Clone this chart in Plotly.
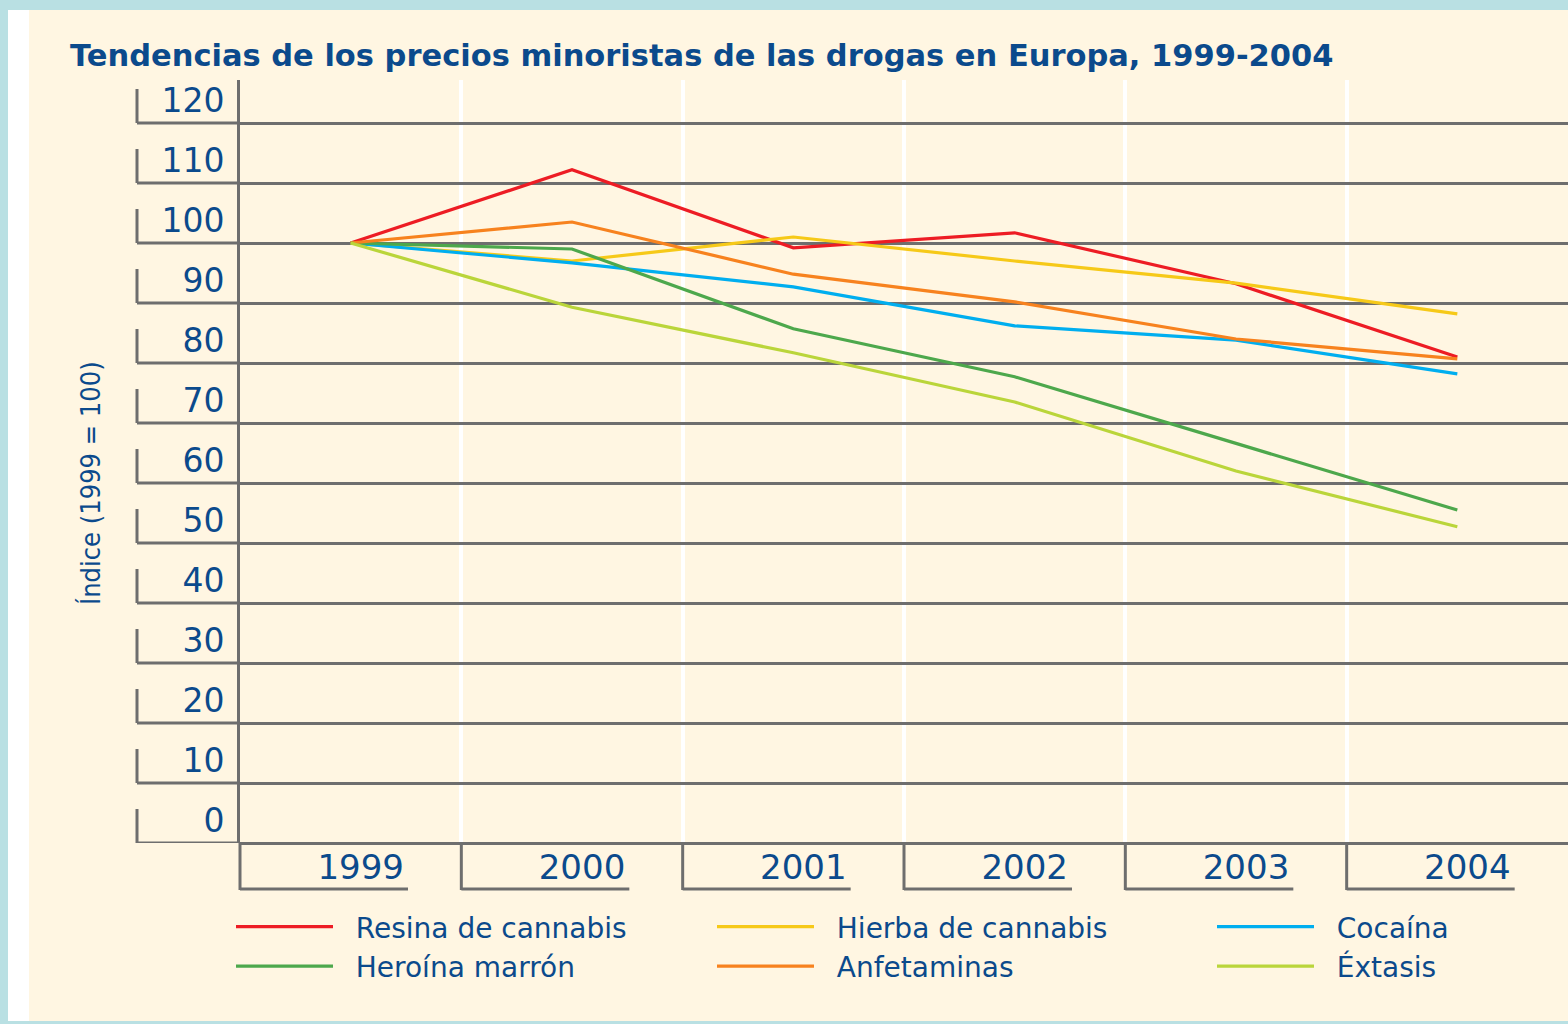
import plotly.graph_objects as go

years = ["1999", "2000", "2001", "2002", "2003", "2004"]
series_names = ["Resina de cannabis", "Hierba de cannabis", "Cocaína",
                "Heroína marrón", "Anfetaminas", "Éxtasis"]
resina = [100, 112.2, 99.2, 101.7, 93.2, 81.0]
hierba = [100, 97.0, 101.0, 97.0, 93.3, 88.2]
cocaina = [100, 96.7, 92.7, 86.2, 83.8, 78.2]
heroina = [100, 99.0, 85.7, 77.7, 66.6, 55.5]
anfetaminas = [100, 103.5, 94.8, 90.2, 84.0, 80.7]
extasis = [100, 89.3, 81.7, 73.5, 62.0, 52.7]
y_ticks = [0, 10, 20, 30, 40, 50, 60, 70, 80, 90, 100, 110, 120]

values = [resina, hierba, cocaina, heroina, anfetaminas, extasis]
colors = ["#ED1C24", "#F6C918", "#00AEEF", "#4DA84C", "#F7821E", "#BAD53A"]
legend_ids = ["legend", "legend2", "legend3", "legend", "legend2", "legend3"]

BLUE = "#0B4A8C"
GRAY = "#6E6E6E"
CREAM = "#FFF6E2"
FONT = "DejaVu Sans"
NB = "\u00a0\u00a0"

W, H = 1568, 1024
L, R, T, B = 240, 0, 80, 181
PW, PH = W - L - R, H - T - B
YMAX = 763 / 6.0


def px(xp):
    return (xp - L) / PW


def py(yp):
    return (H - B - yp) / PH


xs = list(range(len(years)))
fig = go.Figure()
for name, vals, col, lg in zip(series_names, values, colors, legend_ids):
    fig.add_trace(go.Scatter(x=xs, y=vals, mode="lines", name=NB + name,
                             legend=lg, line=dict(color=col, width=3.2)))

shapes = []
# background panels
shapes.append(dict(type="rect", xref="paper", yref="paper", layer="below",
                   x0=px(8), x1=px(W + 5), y0=py(1021), y1=py(10),
                   fillcolor="white", line=dict(width=0)))
shapes.append(dict(type="rect", xref="paper", yref="paper", layer="below",
                   x0=px(29), x1=px(W + 5), y0=py(1021), y1=py(10),
                   fillcolor=CREAM, line=dict(width=0)))
# y tick boxes: gridline extension + left bar
for v in y_ticks:
    shapes.append(dict(type="line", xref="paper", yref="y",
                       x0=px(137), x1=0, y0=v, y1=v,
                       line=dict(color=GRAY, width=3)))
    shapes.append(dict(type="line", xref="paper", yref="y",
                       x0=px(137), x1=px(137), y0=v, y1=v + 34 / 6.0,
                       line=dict(color=GRAY, width=3)))
# axis line extension below plot
shapes.append(dict(type="line", xref="paper", yref="paper",
                   x0=0, x1=0, y0=py(890), y1=0,
                   line=dict(color=GRAY, width=3)))
# x category box bottoms
for i in range(len(years)):
    shapes.append(dict(type="line", xref="x", yref="paper",
                       x0=i - 0.5, x1=i - 0.5 + 168 / (PW / 6.0),
                       y0=py(889), y1=py(889),
                       line=dict(color=GRAY, width=3)))
    if i > 0:
        shapes.append(dict(type="line", xref="x", yref="paper",
                           x0=i - 0.5, x1=i - 0.5,
                           y0=py(890), y1=0,
                           line=dict(color=GRAY, width=3)))

leg_common = dict(orientation="v", xanchor="left", y=py(902), yanchor="top",
                  bgcolor="rgba(0,0,0,0)", itemwidth=97, tracegroupgap=0,
                  font=dict(family=FONT, size=28, color=BLUE))

fig.update_layout(
    width=W, height=H,
    margin=dict(l=L, r=R, t=T, b=B),
    paper_bgcolor="#B9E0E3",
    plot_bgcolor="rgba(0,0,0,0)",
    font=dict(family=FONT, color=BLUE),
    title=dict(text="<b>Tendencias de los precios minoristas de las drogas en Europa, 1999-2004</b>",
               xref="container", yref="container", x=70 / W, xanchor="left",
               y=1 - 55 / H, yanchor="middle",
               font=dict(family=FONT, size=30.5, color=BLUE)),
    shapes=shapes,
    showlegend=True,
    legend=dict(x=px(231), **leg_common),
    legend2=dict(x=px(712), **leg_common),
    legend3=dict(x=px(1212), **leg_common),
    annotations=[dict(text="Índice (1999 = 100)", textangle=-90, xref="paper", yref="paper",
                      x=px(90), y=py(483), xanchor="center", yanchor="middle",
                      showarrow=False,
                      font=dict(family="Liberation Sans Narrow, DejaVu Sans Condensed, DejaVu Sans",
                                size=27, color=BLUE))],
)

fig.update_xaxes(range=[-0.5, 5.5], tickmode="array", tickvals=xs, ticktext=years,
                 showgrid=False, zeroline=False, showline=False, ticks="",
                 tickfont=dict(family=FONT, size=34, color=BLUE),
                 ticklabelshift=10, ticklabelstandoff=1,
                 minor=dict(tick0=0.5, dtick=1, showgrid=True, gridcolor="white",
                            gridwidth=4, ticks=""))
fig.update_yaxes(range=[0, YMAX], tickmode="array", tickvals=y_ticks,
                 showgrid=True, gridcolor=GRAY, gridwidth=3,
                 zeroline=True, zerolinecolor=GRAY, zerolinewidth=3,
                 showline=True, linecolor=GRAY, linewidth=3, ticks="",
                 tickfont=dict(family=FONT, size=33, color=BLUE),
                 ticklabelshift=-23, ticklabelstandoff=6)

fig.write_html("out.html", config={"displayModeBar": False},
               post_script="document.body.style.margin='0';")
